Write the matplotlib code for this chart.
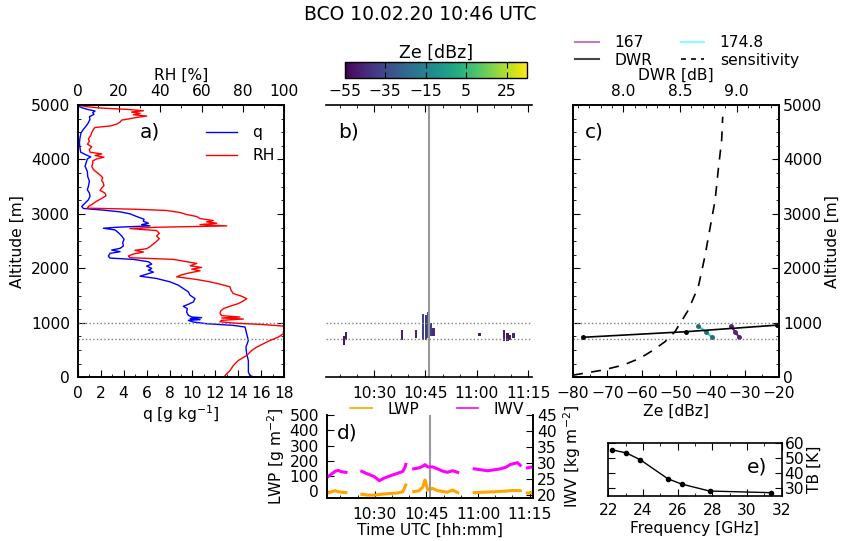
import numpy as np
import matplotlib
matplotlib.use("Agg")
import matplotlib.pyplot as plt
from matplotlib.ticker import MultipleLocator, FuncFormatter
from matplotlib.lines import Line2D

plt.rcParams.update({
    "font.family": "DejaVu Sans",
    "font.size": 11.2,
    "axes.linewidth": 1.2,
    "xtick.direction": "in",
    "ytick.direction": "in",
    "xtick.major.size": 5,
    "ytick.major.size": 5,
    "xtick.minor.size": 2.5,
    "ytick.minor.size": 2.5,
    "xtick.major.pad": 6,
    "ytick.major.pad": 5.5,
    "mathtext.default": "regular",
})

# ---------------- data ----------------
title = "BCO 10.02.20 10:46 UTC"

# panel a: radiosonde profiles
q_alt = [0, 31, 92, 308, 431, 554, 677, 800, 923, 953, 984, 1015, 1046, 1058, 1076, 1095, 1107,
         1138, 1199, 1261, 1304, 1341, 1384, 1445, 1507, 1568, 1630, 1691, 1753, 1814, 1857, 1894,
         1931, 1968, 1999, 2042, 2079, 2122, 2165, 2189, 2226, 2276, 2306, 2337, 2368, 2411, 2472,
         2534, 2595, 2657, 2706, 2737, 2755, 2780, 2804, 2829, 2866, 2903, 2952, 3001, 3038, 3075,
         3100, 3137, 3198, 3260, 3321, 3383, 3444, 3506, 3598, 3690, 3782, 3875, 3936, 4010, 4047,
         4084, 4133, 4213, 4305, 4397, 4490, 4551, 4613, 4674, 4736, 4785, 4828, 4859, 4889, 4920,
         4951, 4982]
q_val = [15.45, 15.01, 14.87, 14.87, 14.72, 14.66, 14.87, 14.72, 14.58, 13.56, 11.24, 10.08, 9.64,
         10.66, 9.79, 10.80, 9.93, 9.64, 9.49, 9.55, 9.20, 9.64, 10.08, 10.22, 9.79, 9.64, 9.20, 8.77,
         8.04, 6.88, 5.43, 6.01, 6.59, 6.16, 6.45, 6.01, 6.45, 6.16, 4.85, 2.82, 2.67, 2.82, 3.69, 2.96,
         3.69, 3.98, 3.92, 4.04, 3.83, 3.54, 3.25, 2.24, 3.40, 6.30, 5.57, 6.16, 5.72, 5.78, 5.14, 4.56,
         3.69, 1.95, 0.49, 0.35, 0.64, 0.93, 1.07, 1.02, 0.84, 0.93, 1.02, 0.87, 0.84, 0.64, 0.73, 0.84,
         1.13, 0.73, 0.26, 0.20, 0.15, 0.20, 0.29, 0.49, 0.73, 0.93, 1.07, 1.02, 1.42, 1.31, 1.51, 0.84,
         0.35, 0.03]

rh_alt = [31, 123, 215, 308, 400, 492, 554, 615, 677, 738, 800, 892, 941, 972, 996, 1021, 1046, 1070,
          1089, 1107, 1132, 1169, 1218, 1261, 1304, 1353, 1402, 1445, 1488, 1538, 1599, 1661, 1710,
          1753, 1796, 1845, 1882, 1919, 1956, 1986, 2017, 2048, 2091, 2128, 2165, 2196, 2226, 2263,
          2300, 2331, 2362, 2399, 2448, 2497, 2546, 2595, 2644, 2694, 2731, 2755, 2780, 2804, 2829,
          2854, 2878, 2915, 2952, 2989, 3026, 3063, 3087, 3106, 3137, 3186, 3235, 3284, 3333, 3383,
          3432, 3475, 3518, 3567, 3616, 3665, 3715, 3764, 3813, 3875, 3924, 3973, 4010, 4041, 4072,
          4102, 4133, 4182, 4231, 4280, 4330, 4379, 4440, 4502, 4551, 4588, 4613, 4649, 4686, 4723,
          4748, 4772, 4797, 4822, 4846, 4871, 4895, 4920, 4945, 4969, 4994]
rh_val = [71.3, 73.7, 75.3, 77.7, 81.8, 84.2, 86.6, 89.8, 93.1, 97.1, 99.5, 99.8, 99.5, 88.2, 75.3,
          68.9, 69.7, 80.2, 69.7, 78.5, 69.7, 68.9, 69.2, 70.5, 73.7, 77.7, 80.2, 81.8, 79.4, 75.3,
          74.2, 73.7, 68.9, 64.0, 57.6, 47.9, 50.3, 54.4, 59.2, 55.2, 60.0, 54.4, 57.6, 51.9, 46.3,
          25.3, 24.5, 26.9, 31.8, 27.7, 33.4, 35.0, 36.6, 38.2, 39.5, 38.2, 39.5, 38.2, 25.3, 38.2,
          72.1, 59.2, 67.3, 62.4, 65.6, 59.2, 57.6, 52.7, 49.5, 43.1, 26.9, 4.7, 5.2, 7.3, 9.2, 11.6,
          13.7, 13.2, 10.8, 11.6, 12.7, 12.4, 11.6, 12.1, 10.8, 9.2, 7.6, 6.8, 7.3, 7.3, 9.2, 12.7,
          8.4, 11.6, 6.0, 5.6, 6.8, 4.7, 5.6, 5.2, 6.3, 6.9, 7.6, 8.4, 15.6, 18.9, 20.5, 21.3, 25.3,
          28.5, 33.4, 26.9, 30.2, 26.1, 31.8, 23.7, 10.8, 4.4, 0.8]

# cloud layer markers
layer_heights = [700, 1000]

# panel b: radar echoes (minutes after 10:00, altitude m, Ze dBz)
echo_t0 = [21.1, 21.5, 37.7, 42.0, 44.0, 44.7, 45.4, 46.3, 46.9, 48.2, 60.2, 67.6, 68.6, 69.4, 70.3]
echo_t1 = [21.6, 22.3, 38.6, 42.6, 44.6, 45.4, 46.3, 46.9, 47.8, 48.6, 61.2, 68.3, 69.3, 70.0, 71.2]
echo_h0 = [612, 700, 698, 728, 705, 705, 720, 740, 760, 716, 758, 672, 672, 698, 716]
echo_h1 = [747, 837, 876, 876, 1180, 1130, 1190, 990, 900, 740, 819, 856, 808, 780, 819]
echo_ze = [-50, -48, -47, -46, -38, -40, -32, -40, -44, -45, -48, -47, -50, -48, -46]
t_start, t_end, t_obs = 16.0, 76.0, 46.0
ze_min, ze_max = -55, 35
cbar_ticks = [-55, -35, -15, 5, 25]

# panel c
gate_alt = [735, 838, 942]
ze_167 = [-31.6, -32.8, -34.0]
ze_1748 = [-39.5, -41.3, -43.6]
dwr_alt = [735, 838, 958]
dwr_val = [7.648, 8.557, 9.358]
sens_alt = [40, 61, 134, 226, 349, 501, 654, 838, 1236, 1664, 2215, 2736, 3256, 3806, 4357, 4785]
sens_ze = [-80.0, -78.0, -71.2, -65.3, -60.5, -56.6, -53.2, -50.3, -46.4, -43.5, -41.6, -40.1,
           -38.6, -37.7, -36.7, -36.4]

# panel d: microwave radiometer time series (NaN = gap)
nan = float("nan")
mwr_t = [16.2, 18.4, 19.3, 20.3, 21.6, nan,
         26.2, 27.9, 29.8, 31.3, 32.7, 34.7, 36.6, 38.1, 38.8, 39.0, nan,
         41.3, 42.9, 43.9, 44.6, 45.4, 46.8, 48.2, 49.7, 51.1, 52.6, 54.1, nan,
         58.9, 60.8, 62.8, 64.7, 66.6, 68.1, 69.5, 71.5, 72.3, nan,
         74.4, 76.3]
iwv = [25.6, 27.4, 27.7, 27.3, 27.1, nan,
       27.4, 26.6, 25.8, 24.5, 25.3, 26.1, 26.8, 27.4, 28.7, 29.6, nan,
       28.2, 28.5, 29.0, 29.5, 28.8, 28.8, 28.2, 27.5, 27.1, 27.6, 27.1, nan,
       28.2, 27.9, 27.6, 27.9, 28.2, 28.7, 29.6, 30.1, 29.3, nan,
       28.5, 28.9]
lwp = [-12, 5, -2, -5, -8, nan,
       -19, -24, -24, -20, -17, -13, -10, -2, 31, 42, nan,
       -2, 5, 27, 75, 9, 20, 5, 0, -5, 9, -8, nan,
       -8, -6, -4, -2, 0, 2, 5, 6, 4, nan,
       -10, -8]

# panel e: brightness temperatures
freq = [22.24, 23.04, 23.84, 25.44, 26.24, 27.84, 31.40]
tb = [55.6, 53.6, 49.1, 36.4, 32.9, 28.3, 27.2]

# ---------------- figure ----------------
W, H = 841, 541
fig = plt.figure(figsize=(W / 100, H / 100), dpi=100)
fig.patch.set_facecolor("white")


def ax_px(l, r, t, b):
    return fig.add_axes([l / W, 1 - b / H, (r - l) / W, (b - t) / H])


def hhmm(m, pos=None):
    m = int(round(m))
    return f"{10 + m // 60}:{m % 60:02d}"


fig.text(0.5, 1 - 15 / H, title, ha="center", va="center", fontsize=13.5)

# ---- a ----
axa = ax_px(77.7, 284.3, 105, 377.3)
la, = axa.plot(q_val, q_alt, color="blue", lw=1)
axa.set_xlim(0, 18)
axa.set_ylim(0, 5000)
axa.xaxis.set_major_locator(MultipleLocator(2))
axa.xaxis.set_minor_locator(MultipleLocator(1))
axa.yaxis.set_major_locator(MultipleLocator(1000))
axa.yaxis.set_minor_locator(MultipleLocator(250))
axa.tick_params(which="both", right=True)
axa.set_xlabel("q [g kg$^{-1}$]", labelpad=2)
axa.set_ylabel("Altitude [m]")
for h in layer_heights:
    axa.axhline(h, color="gray", ls=":", lw=1)
axa_t = axa.twiny()
lb, = axa_t.plot(rh_val, rh_alt, color="red", lw=1)
axa_t.set_xlim(0, 100)
axa_t.xaxis.set_major_locator(MultipleLocator(20))
axa_t.xaxis.set_minor_locator(MultipleLocator(10))
axa_t.tick_params(axis="x", pad=4)
axa_t.set_xlabel("RH [%]", labelpad=3)
axa_t.legend([la, lb], ["q", "RH"], loc="upper right", frameon=False,
             bbox_to_anchor=(1.0, 0.96), handlelength=2.0, handletextpad=1.0, borderaxespad=0.2)
axa.text(0.3, 0.9, "a)", transform=axa.transAxes, fontsize=14.5, va="center")

# ---- b ----
axb = ax_px(326, 531.7, 105, 377.3)
tg = np.arange(t_start, t_end + 0.001, 0.25)
hg = np.arange(0, 5001, 30)
Z = np.full((len(hg) - 1, len(tg) - 1), np.nan)
tc = 0.5 * (tg[1:] + tg[:-1])
hc = 0.5 * (hg[1:] + hg[:-1])
for t0, t1, h0, h1, z in zip(echo_t0, echo_t1, echo_h0, echo_h1, echo_ze):
    mt = (tc >= t0) & (tc <= t1)
    mh = (hc >= h0) & (hc <= h1)
    Z[np.ix_(mh, mt)] = z
mesh = axb.pcolormesh(tg, hg, np.ma.masked_invalid(Z), cmap="viridis", vmin=ze_min, vmax=ze_max)
axb.axvline(t_obs, color="#999999", lw=1.5)
for h in layer_heights:
    axb.axhline(h, color="gray", ls=":", lw=1)
axb.set_xlim(t_start, t_end)
axb.set_ylim(0, 5000)
axb.set_yticks([])
axb.spines["left"].set_visible(False)
axb.spines["right"].set_visible(False)
axb.xaxis.set_major_locator(MultipleLocator(15))
axb.xaxis.set_minor_locator(MultipleLocator(5))
axb.xaxis.set_major_formatter(FuncFormatter(hhmm))
axb.tick_params(which="both", top=True)
axb.text(0.06, 0.9, "b)", transform=axb.transAxes, fontsize=14.5, va="center")

cax = ax_px(344.5, 527, 62.3, 78.3)
cb = fig.colorbar(mesh, cax=cax, orientation="horizontal", ticks=cbar_ticks)
cb.outline.set_linewidth(1.0)
cax.tick_params(which="both", top=True, direction="in", length=4, pad=4)
cax.xaxis.set_label_position("top")
cax.set_xlabel("Ze [dBz]", fontsize=12.5, labelpad=3)

# ---- c ----
axc = ax_px(573, 779, 105, 377.3)
l1, = axc.plot(ze_167, gate_alt, color="#5a1e72", lw=1.5, marker="o", ms=2.5)
l2, = axc.plot(ze_1748, gate_alt, color="#22d0d0", lw=1.5, marker="o", ms=2.5, mfc="#1a7070", mec="#1a7070")
l4, = axc.plot(sens_ze, sens_alt, color="black", ls=(0, (6, 5)), lw=1.2)
for h in layer_heights:
    axc.axhline(h, color="gray", ls=":", lw=1)
axc.set_xlim(-80, -20)
axc.set_ylim(0, 5000)
axc.xaxis.set_major_locator(MultipleLocator(10))
axc.xaxis.set_minor_locator(MultipleLocator(5))
axc.yaxis.set_major_locator(MultipleLocator(1000))
axc.yaxis.set_minor_locator(MultipleLocator(250))
axc.tick_params(which="both", left=True, right=True, labelleft=False, labelright=True)
axc.tick_params(axis="y", pad=3)
axc.yaxis.set_label_position("right")
axc.set_ylabel("Altitude [m]", labelpad=2)
axc.set_xlabel("Ze [dBz]", labelpad=2)
axc_t = axc.twiny()
l3, = axc_t.plot(dwr_val, dwr_alt, color="black", lw=1.2, marker="o", ms=2.5)
axc_t.set_xlim(7.556, 9.373)
axc_t.xaxis.set_major_locator(MultipleLocator(0.5))
axc_t.xaxis.set_minor_locator(MultipleLocator(0.1))
axc_t.tick_params(axis="x", pad=4)
axc_t.set_xlabel("DWR [dB]", labelpad=3)
axc.text(0.06, 0.9, "c)", transform=axc.transAxes, fontsize=14.5, va="center")
hand = [Line2D([], [], color="#bf7fbf", lw=1.5), Line2D([], [], color="#444444", lw=1.5),
        Line2D([], [], color="#88ffff", lw=1.5), Line2D([], [], color="black", ls=(0, (3, 3)), lw=1.2)]
fig.legend(hand, ["167", "DWR", "174.8", "sensitivity"], ncol=2, frameon=False,
           loc="upper left", bbox_to_anchor=(569 / W, 1 - 29 / H), handlelength=1.5,
           columnspacing=1.85, labelspacing=0.15, handletextpad=1.0, borderaxespad=0)

# ---- d ----
axd = ax_px(326.7, 533, 415, 498.3)
ld1, = axd.plot(mwr_t, lwp, color="orange", lw=2.2)
axd.set_xlim(t_start, t_end)
axd.set_ylim(-45, 500)
axd.yaxis.set_major_locator(MultipleLocator(100))
axd.xaxis.set_major_locator(MultipleLocator(15))
axd.xaxis.set_minor_locator(MultipleLocator(5))
axd.xaxis.set_major_formatter(FuncFormatter(hhmm))
axd.axvline(t_obs, color="#999999", lw=1.5)
axd.spines["top"].set_visible(False)
axd.set_ylabel("LWP [g m$^{-2}$]", labelpad=2)
axd.set_xlabel("Time UTC [hh:mm]", labelpad=1)
axd2 = axd.twinx()
ld2, = axd2.plot(mwr_t, iwv, color="magenta", lw=2.2)
axd2.set_ylim(19, 45)
axd2.yaxis.set_major_locator(MultipleLocator(5))
axd2.tick_params(axis="y", pad=3)
axd2.spines["top"].set_visible(False)
axd2.set_ylabel("IWV [kg m$^{-2}$]", labelpad=3)
axd.text(0.05, 0.78, "d)", transform=axd.transAxes, fontsize=14.5, va="center")
hd = [Line2D([], [], color="orange", lw=1.2), Line2D([], [], color="magenta", lw=1.2)]
fig.legend(hd, ["LWP", "IWV"], ncol=2, frameon=False, loc="center left",
           bbox_to_anchor=(344 / W, 1 - 409 / H), handlelength=1.4, columnspacing=2.4,
           handletextpad=1.0, borderaxespad=0)
for a in (axd, axd2):
    a.patch.set_visible(False)

# ---- e ----
axe = ax_px(608.3, 781.7, 443.3, 496)
axe.plot(freq, tb, color="black", lw=1, marker="o", ms=3)
axe.set_xlim(22, 32)
axe.set_ylim(25, 60)
axe.xaxis.set_major_locator(MultipleLocator(2))
axe.xaxis.set_minor_locator(MultipleLocator(1))
axe.yaxis.set_major_locator(MultipleLocator(10))
axe.tick_params(which="both", top=True, left=True, right=True, labelleft=False, labelright=True)
axe.tick_params(axis="y", pad=2)
axe.tick_params(axis="x", pad=5)
axe.yaxis.set_label_position("right")
axe.set_ylabel("TB [K]", labelpad=2)
axe.set_xlabel("Frequency [GHz]", labelpad=2)
axe.text(0.8, 0.55, "e)", transform=axe.transAxes, fontsize=14.5, va="center")

fig.savefig("out.png", dpi=100, facecolor="white")
